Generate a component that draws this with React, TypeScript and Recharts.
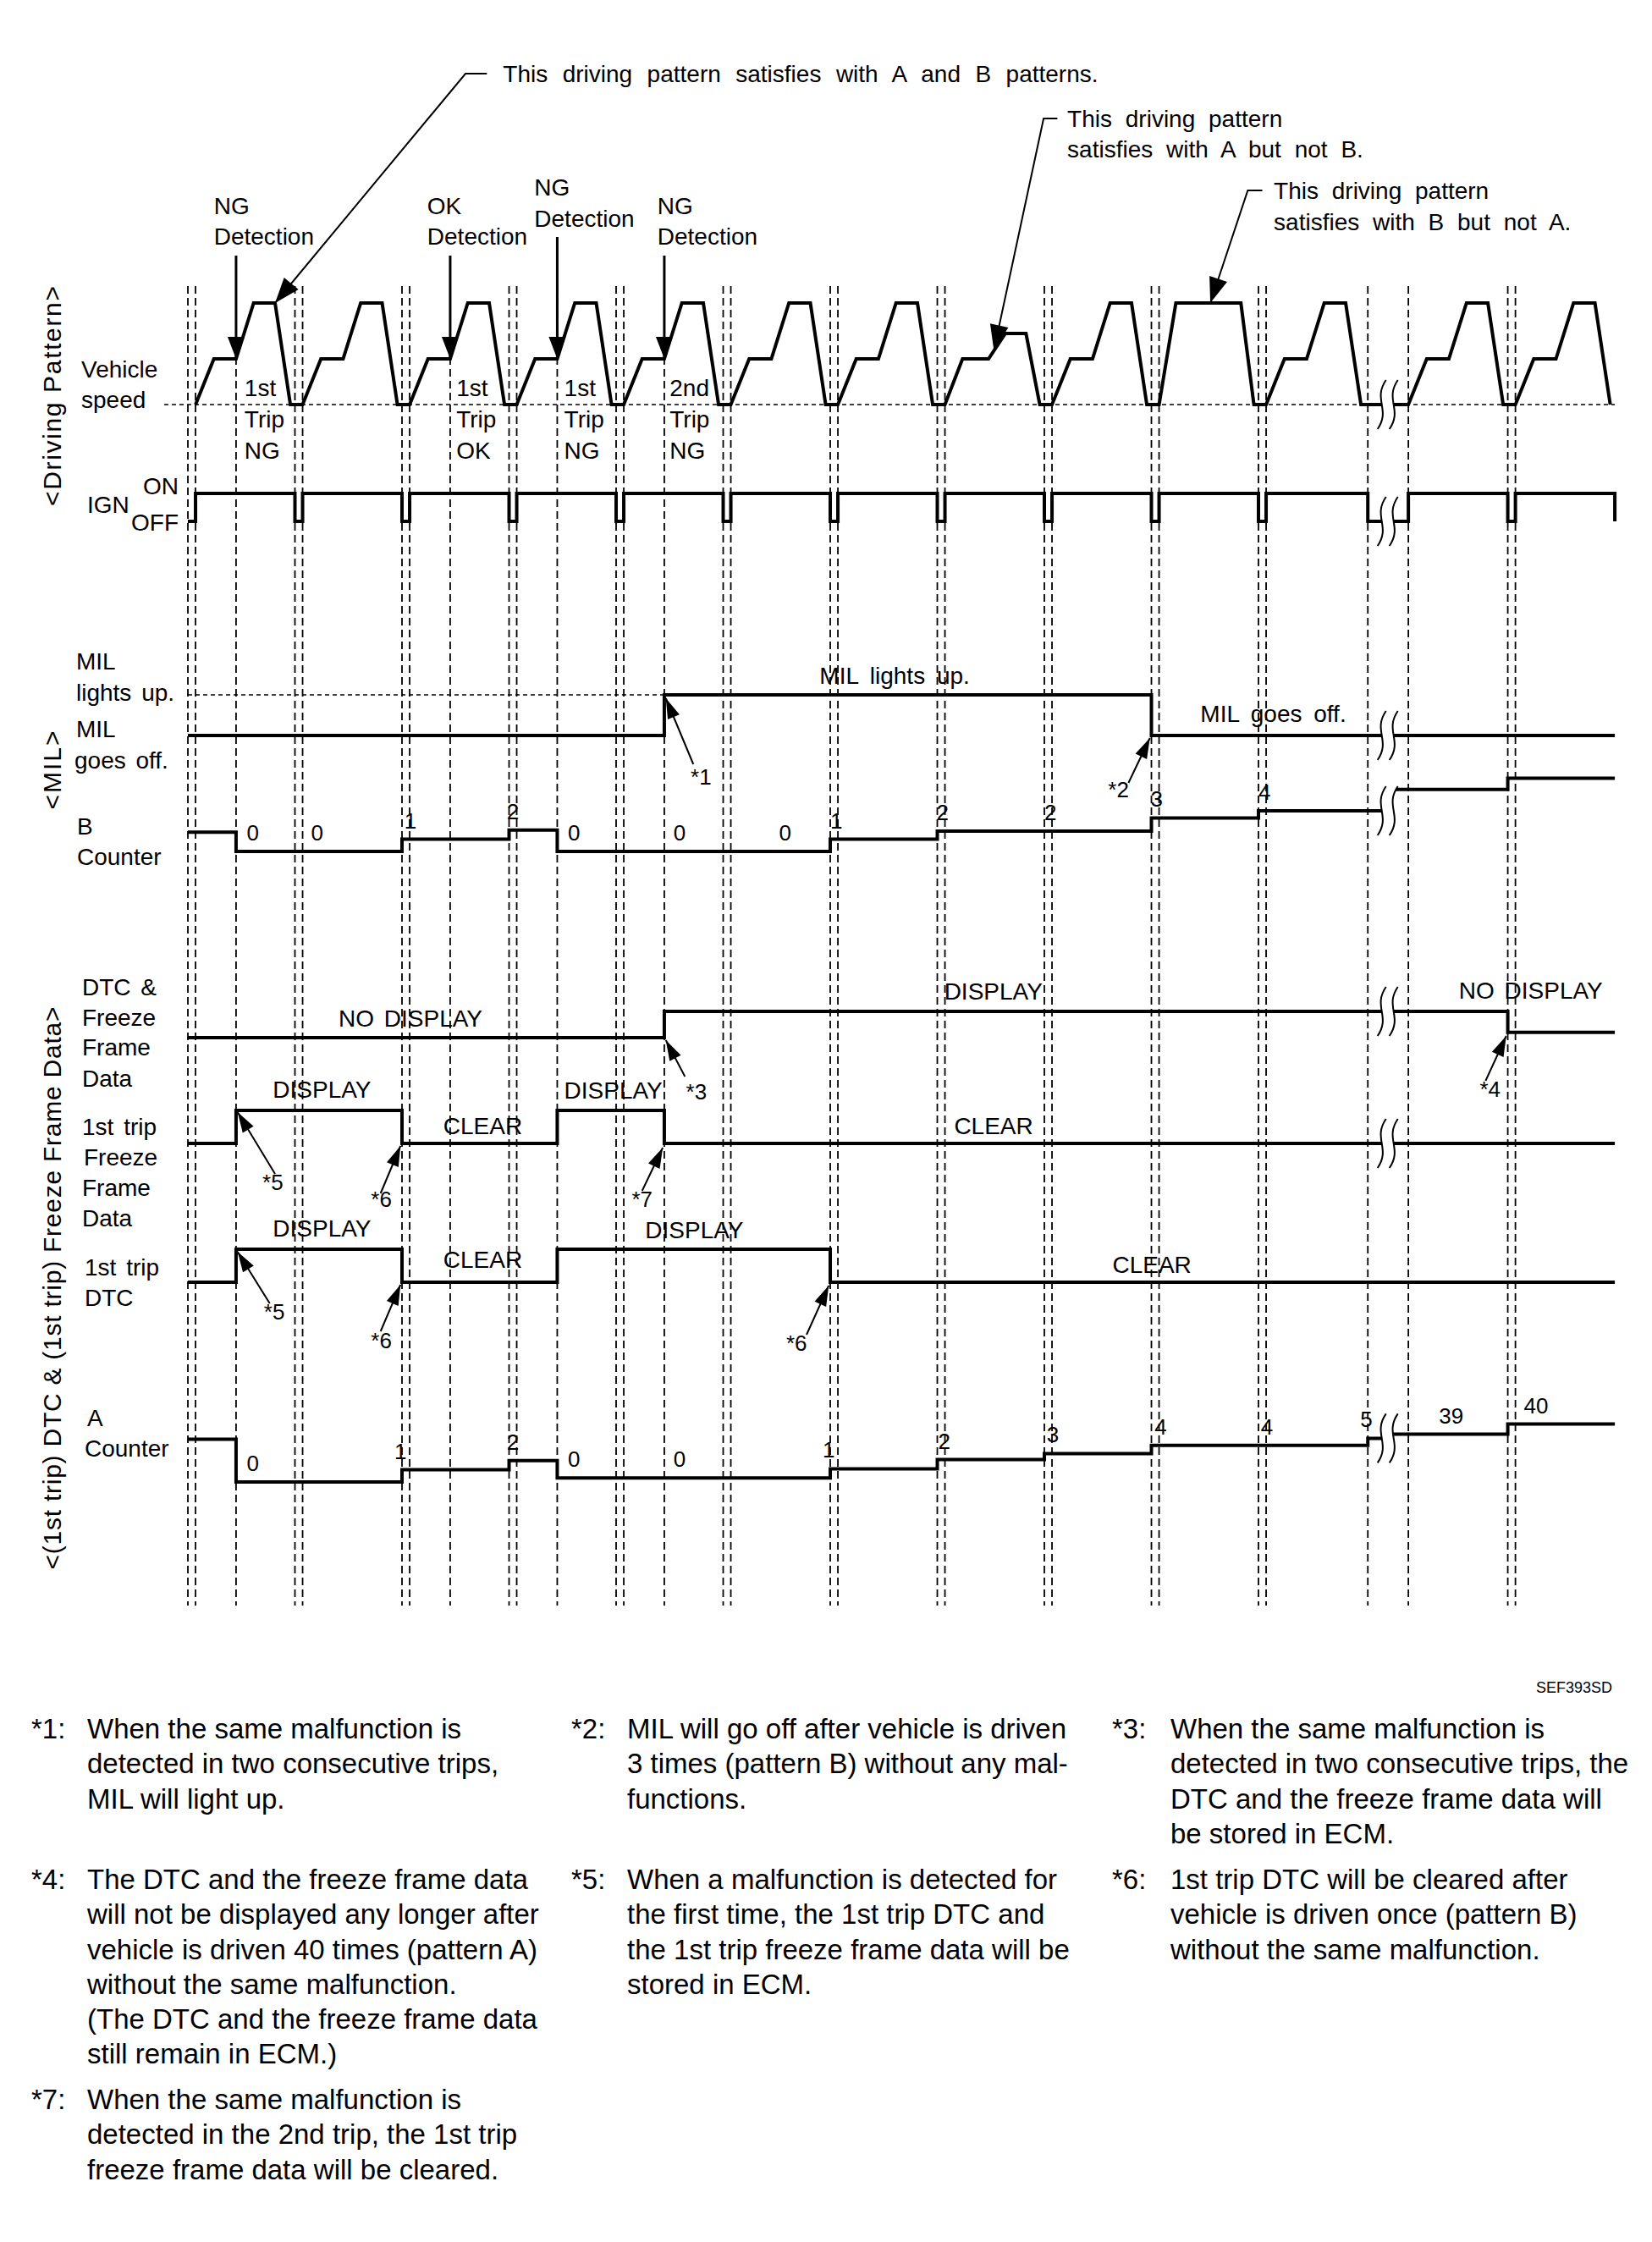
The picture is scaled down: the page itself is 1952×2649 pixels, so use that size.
import React from "react";
import { ComposedChart, Line, Scatter, XAxis, YAxis } from "recharts";

const W = 1952;
const H = 1910;
const T_MIN = -24.57;
const T_MAX = 191.46;
const PX_PER_T = W / (T_MAX - T_MIN);
const FONT = '"Liberation Sans", Arial, Helvetica, sans-serif';

// time base: one drive cycle = 14 units (13 ignition on + 1 off)
const ignOnTimes = [1, 15, 29, 43, 57, 71, 85, 99, 113, 127, 141, 159.6, 173.6];
const ignOffTimes = [14, 28, 42, 56, 70, 84, 98, 112, 126, 140, 154.3, 172.6];
const endTime = 186.6;
const detectionTimes = [6.3, 34.3, 48.3, 62.3];
const breakTime = 156.9;

// which pattern each trip satisfies
const tripPattern = ["AB", "AB", "AB", "AB", "AB", "AB", "AB", "A", "AB", "B", "AB", "AB", "AB"];

// [time from ignition on, vehicle speed]
const speedProfiles: Record<string, number[][]> = {
  AB: [[0, 0], [2.4, 45], [5.3, 45], [7.6, 100], [10.4, 100], [12.4, 0]],
  A: [[0, 0], [2.3, 45], [5.7, 45], [7.9, 70], [10.6, 70], [12.4, 0]],
  B: [[0, 0], [2.2, 100], [10.7, 100], [12.4, 0]],
};

// [time, level] step signals
const milSteps = [[0, 0], [62.3, 1], [126, 0], [endTime, 0]];
const bCounterSteps = [[0, 1.9], [6.3, 0], [28, 1.2], [42, 2.1], [48.3, 0], [84, 1.2], [98, 2.0], [126, 3.3], [140, 4.0], [breakTime, 6.1], [172.6, 7.2], [endTime, 7.2]];
const dtcFfdSteps = [[0, 0], [62.3, 1], [172.6, 0.2], [endTime, 0.2]];
const ffd1Steps = [[0, 0], [6.3, 1], [28, 0], [48.3, 1], [62.3, 0], [endTime, 0]];
const dtc1Steps = [[0, 0], [6.3, 1], [28, 0], [48.3, 1], [84, 0], [endTime, 0]];
const aCounterSteps = [[0, 4.2], [6.3, 0], [28, 1.2], [42, 2.1], [48.3, 0.4], [84, 1.3], [98, 2.2], [112, 2.8], [126, 3.6], [154.3, 4.3], [breakTime, 4.7], [172.6, 5.7], [endTime, 5.7]];

const bLabelTimes = [8.5, 16.9, 29.1, 42.5, 50.5, 64.3, 78.1, 84.8, 98.7, 112.8, 126.7, 140.8];
const bLabelValues = ["0", "0", "1", "2", "0", "0", "0", "1", "2", "2", "3", "4"];
const aLabelTimes = [8.5, 27.8, 42.5, 50.5, 64.3, 83.8, 98.9, 113.1, 127.2, 141.1, 154.1, 165.2, 176.3];
const aLabelValues = ["0", "1", "2", "0", "0", "1", "2", "3", "4", "4", "5", "39", "40"];

type RowName = "speed" | "ign" | "mil" | "b" | "dtc" | "ffd1" | "dtc1" | "a";
const rowLayout: Record<RowName, { base: number; scale: number }> = {
  speed: { base: 478, scale: 1.2 },
  ign: { base: 616, scale: 33 },
  mil: { base: 869, scale: 48 },
  b: { base: 1006, scale: 12 },
  dtc: { base: 1226, scale: 31 },
  ffd1: { base: 1351, scale: 39 },
  dtc1: { base: 1515, scale: 39 },
  a: { base: 1751, scale: 12 },
};
const rowY = (row: RowName, v: number) => rowLayout[row].base - v * rowLayout[row].scale;
const stepSeries = (row: RowName, steps: number[][]) => steps.map(([t, v]) => ({ t, y: rowY(row, v) }));
const levelAt = (steps: number[][], t: number) => {
  let v = steps[0][1];
  for (const [st, sv] of steps) if (st <= t) v = sv;
  return v;
};

const ignSteps = [
  [0, 0],
  ...[...ignOnTimes.map((t) => [t, 1]), ...ignOffTimes.map((t) => [t, 0])].sort((a, b) => a[0] - b[0]),
  [endTime, 0],
];

const speedSeries = ignOnTimes.flatMap((start, i) =>
  speedProfiles[tripPattern[i]].map(([dt, v]) => ({ t: start + dt, y: rowY("speed", v) }))
);

const GRID_TOP = 338;
const GRID_BOTTOM = 1897;
const gridSeries = [0, ...ignOnTimes, ...ignOffTimes, ...detectionTimes].flatMap((t) => [
  { t, y: GRID_TOP },
  { t, y: GRID_BOTTOM },
  { t, y: null },
]);

const speedBase = [{ t: -3.1, y: rowY("speed", 0) }, { t: endTime, y: rowY("speed", 0) }];
const milOnGuide = [{ t: 0, y: rowY("mil", 1) }, { t: 62.3, y: rowY("mil", 1) }];

// leader lines: polyline points [t, y], last point is the arrow tip
const leaders: { pts: number[][]; len: number; wid: number }[] = [
  { pts: [[39.1, 87], [36.3, 87], [11.4, 358]], len: 30, wid: 22 },
  { pts: [[113.7, 140], [111.9, 140], [105.4, 414]], len: 30, wid: 22 },
  { pts: [[140.5, 225], [138.6, 225], [133.7, 358]], len: 30, wid: 22 },
  { pts: [[66.1, 903], [62.5, 825]], len: 24, wid: 15 },
  { pts: [[123.0, 925], [125.8, 872]], len: 24, wid: 15 },
  { pts: [[65.0, 1272], [62.5, 1229]], len: 24, wid: 15 },
  { pts: [[169.7, 1277], [172.4, 1224]], len: 24, wid: 15 },
  { pts: [[11.4, 1387], [6.5, 1314]], len: 24, wid: 15 },
  { pts: [[25.2, 1410], [27.8, 1354]], len: 24, wid: 15 },
  { pts: [[59.4, 1407], [62.1, 1356]], len: 24, wid: 15 },
  { pts: [[10.7, 1540], [6.5, 1479]], len: 24, wid: 15 },
  { pts: [[25.2, 1573], [27.8, 1518]], len: 24, wid: 15 },
  { pts: [[80.9, 1577], [83.8, 1519]], len: 24, wid: 15 },
];
const detectionTails = [302, 302, 280, 302];
const detectionArrows = detectionTimes.map((t, i) => ({
  pts: [[t, detectionTails[i]], [t, rowY("speed", 45)]],
  len: 26,
  wid: 20,
}));

const leaderSeries = leaders.flatMap((l) => [...l.pts.map(([t, y]) => ({ t, y })), { t: l.pts[0][0], y: null }]);
const detectionSeries = detectionArrows.flatMap((l) => [...l.pts.map(([t, y]) => ({ t, y })), { t: l.pts[0][0], y: null }]);
const headSeries = [...leaders, ...detectionArrows].map((l) => {
  const tip = l.pts[l.pts.length - 1];
  const from = l.pts[l.pts.length - 2];
  return { t: tip[0], y: tip[1], ft: from[0], fy: from[1], len: l.len, wid: l.wid };
});

const breakSeries = [
  { t: breakTime, y: rowY("speed", 0) },
  { t: breakTime, y: rowY("ign", 0) },
  { t: breakTime, y: rowY("mil", levelAt(milSteps, breakTime - 1)) },
  { t: breakTime, y: rowY("b", levelAt(bCounterSteps, breakTime - 1)) },
  { t: breakTime, y: rowY("dtc", levelAt(dtcFfdSteps, breakTime - 1)) },
  { t: breakTime, y: rowY("ffd1", levelAt(ffd1Steps, breakTime - 1)) },
  { t: breakTime, y: rowY("a", levelAt(aCounterSteps, breakTime - 1)) },
];

const chartTexts = [
  { t: 41.2, y: 87, text: "This driving pattern satisfies with A and B patterns.", ws: 9.7 },
  { t: 115.0, y: 140, text: "This driving pattern", ws: 8 },
  { t: 115.0, y: 176, text: "satisfies with A but not B.", ws: 8 },
  { t: 142.0, y: 225, text: "This driving pattern", ws: 8 },
  { t: 142.0, y: 262, text: "satisfies with B but not A.", ws: 8 },
  { t: 3.4, y: 243, text: "NG" }, { t: 3.4, y: 279, text: "Detection" },
  { t: 31.3, y: 243, text: "OK" }, { t: 31.3, y: 279, text: "Detection" },
  { t: 45.3, y: 221, text: "NG" }, { t: 45.3, y: 258, text: "Detection" },
  { t: 61.4, y: 243, text: "NG" }, { t: 61.4, y: 279, text: "Detection" },
  { t: 7.4, y: 458, text: "1st" }, { t: 7.4, y: 495, text: "Trip" }, { t: 7.4, y: 532, text: "NG" },
  { t: 35.1, y: 458, text: "1st" }, { t: 35.1, y: 495, text: "Trip" }, { t: 35.1, y: 532, text: "OK" },
  { t: 49.2, y: 458, text: "1st" }, { t: 49.2, y: 495, text: "Trip" }, { t: 49.2, y: 532, text: "NG" },
  { t: 63.0, y: 458, text: "2nd" }, { t: 63.0, y: 495, text: "Trip" }, { t: 63.0, y: 532, text: "NG" },
  { t: 82.6, y: 798, text: "MIL lights up.", ws: 6 },
  { t: 132.4, y: 843, text: "MIL goes off.", ws: 6 },
  { t: 19.7, y: 1203, text: "NO DISPLAY", ws: 4 },
  { t: 98.9, y: 1171, text: "DISPLAY" },
  { t: 166.2, y: 1170, text: "NO DISPLAY", ws: 4 },
  { t: 11.1, y: 1287, text: "DISPLAY" }, { t: 33.4, y: 1330, text: "CLEAR" },
  { t: 49.2, y: 1288, text: "DISPLAY" }, { t: 100.2, y: 1330, text: "CLEAR" },
  { t: 11.1, y: 1451, text: "DISPLAY" }, { t: 33.4, y: 1488, text: "CLEAR" },
  { t: 59.8, y: 1453, text: "DISPLAY" }, { t: 120.9, y: 1494, text: "CLEAR" },
  { t: 67.1, y: 918, text: "*1", anchor: "middle", size: 26 },
  { t: 121.7, y: 933, text: "*2", anchor: "middle", size: 26 },
  { t: 66.5, y: 1290, text: "*3", anchor: "middle", size: 26 },
  { t: 170.3, y: 1287, text: "*4", anchor: "middle", size: 26 },
  { t: 11.1, y: 1397, text: "*5", anchor: "middle", size: 26 },
  { t: 25.3, y: 1417, text: "*6", anchor: "middle", size: 26 },
  { t: 59.4, y: 1417, text: "*7", anchor: "middle", size: 26 },
  { t: 11.3, y: 1550, text: "*5", anchor: "middle", size: 26 },
  { t: 25.3, y: 1584, text: "*6", anchor: "middle", size: 26 },
  { t: 79.6, y: 1587, text: "*6", anchor: "middle", size: 26 },
  ...bLabelTimes.map((t, i) => ({ t, y: rowY("b", levelAt(bCounterSteps, t + 0.5)) - 22, text: bLabelValues[i], anchor: "middle", size: 26 })),
  ...aLabelTimes.map((t, i) => ({ t, y: rowY("a", levelAt(aCounterSteps, t + 0.5)) - 22, text: aLabelValues[i], anchor: "middle", size: 26 })),
];

const sideLabels = [
  { x: 96, y: 436, text: "Vehicle" }, { x: 96, y: 472, text: "speed" },
  { x: 103, y: 596, text: "IGN" }, { x: 169, y: 574, text: "ON" }, { x: 155, y: 617, text: "OFF" },
  { x: 90, y: 781, text: "MIL" }, { x: 90, y: 818, text: "lights up." },
  { x: 90, y: 861, text: "MIL" }, { x: 88, y: 898, text: "goes off." },
  { x: 91, y: 976, text: "B" }, { x: 91, y: 1012, text: "Counter" },
  { x: 97, y: 1166, text: "DTC &" }, { x: 97, y: 1202, text: "Freeze" }, { x: 97, y: 1237, text: "Frame" }, { x: 97, y: 1274, text: "Data" },
  { x: 97, y: 1331, text: "1st trip" }, { x: 99, y: 1367, text: "Freeze" }, { x: 97, y: 1403, text: "Frame" }, { x: 97, y: 1439, text: "Data" },
  { x: 100, y: 1497, text: "1st trip" }, { x: 100, y: 1533, text: "DTC" },
  { x: 103, y: 1675, text: "A" }, { x: 100, y: 1711, text: "Counter" },
];
const groupLabels = [
  { y: 468, len: 260, text: "<Driving Pattern>" },
  { y: 910, len: 93, text: "<MIL>" },
  { y: 1522, len: 665, text: "<(1st trip) DTC & (1st trip) Freeze Frame Data>" },
];

const footnotes = [
  { mark: "*1:", col: 0, row: 0, text: "When the same malfunction is\ndetected in two consecutive trips,\nMIL will light up." },
  { mark: "*2:", col: 1, row: 0, text: "MIL will go off after vehicle is driven\n3 times (pattern B) without any mal-\nfunctions." },
  { mark: "*3:", col: 2, row: 0, text: "When the same malfunction is\ndetected in two consecutive trips, the\nDTC and the freeze frame data will\nbe stored in ECM." },
  { mark: "*4:", col: 0, row: 1, text: "The DTC and the freeze frame data\nwill not be displayed any longer after\nvehicle is driven 40 times (pattern A)\nwithout the same malfunction.\n(The DTC and the freeze frame data\nstill remain in ECM.)" },
  { mark: "*5:", col: 1, row: 1, text: "When a malfunction is detected for\nthe first time, the 1st trip DTC and\nthe 1st trip freeze frame data will be\nstored in ECM." },
  { mark: "*6:", col: 2, row: 1, text: "1st trip DTC will be cleared after\nvehicle is driven once (pattern B)\nwithout the same malfunction." },
  { mark: "*7:", col: 0, row: 2, text: "When the same malfunction is\ndetected in the 2nd trip, the 1st trip\nfreeze frame data will be cleared." },
];
const colX = [[37, 103], [675, 741], [1314, 1383]];
const rowTop = [2022, 2200, 2460];

const TextMark = (p: any) => {
  const d = p.payload ?? p;
  return (
    <text x={p.cx} y={p.cy} fontSize={d.size ?? 28} fontFamily={FONT} textAnchor={d.anchor ?? "start"} dominantBaseline="central" wordSpacing={d.ws ?? 2} fill="#000">
      {d.text}
    </text>
  );
};

const ArrowHead = (p: any) => {
  const d = p.payload ?? p;
  const dx = (d.t - d.ft) * PX_PER_T;
  const dy = d.y - d.fy;
  const L = Math.hypot(dx, dy) || 1;
  const ux = dx / L;
  const uy = dy / L;
  const bx = p.cx - ux * d.len;
  const by = p.cy - uy * d.len;
  const px = (-uy * d.wid) / 2;
  const py = (ux * d.wid) / 2;
  return <polygon points={`${p.cx},${p.cy} ${bx + px},${by + py} ${bx - px},${by - py}`} fill="#000" />;
};

const BreakMark = (p: any) => {
  const h = 58;
  const top = p.cy - h / 2;
  const bot = p.cy + h / 2;
  const x1 = p.cx - 7;
  const x2 = p.cx + 7;
  const curve = (x: number) => `M${x + 5},${top} C${x - 11},${top + h * 0.4} ${x + 11},${top + h * 0.6} ${x - 5},${bot}`;
  const mask = `M${x1 + 5},${top} C${x1 - 11},${top + h * 0.4} ${x1 + 11},${top + h * 0.6} ${x1 - 5},${bot} L${x2 - 5},${bot} C${x2 + 11},${top + h * 0.6} ${x2 - 11},${top + h * 0.4} ${x2 + 5},${top} Z`;
  return (
    <g>
      <path d={mask} fill="#fff" stroke="none" />
      <path d={curve(x1)} fill="none" stroke="#000" strokeWidth={2} />
      <path d={curve(x2)} fill="none" stroke="#000" strokeWidth={2} />
    </g>
  );
};

const sig = { dot: false, activeDot: false, isAnimationActive: false, stroke: "#000", dataKey: "y", legendType: "none" as const };

export default function App() {
  return (
    <div style={{ position: "absolute", left: 0, top: 0, width: W, height: 2649, background: "#fff", fontFamily: FONT }}>
      <div style={{ position: "absolute", left: 0, top: 0 }}>
        <ComposedChart width={W} height={H} margin={{ top: 0, right: 0, bottom: 0, left: 0 }}>
          <XAxis type="number" dataKey="t" domain={[T_MIN, T_MAX]} hide allowDataOverflow />
          <YAxis type="number" dataKey="y" domain={[0, H]} reversed hide allowDataOverflow />
          <Line {...sig} data={gridSeries} type="linear" strokeWidth={1.8} strokeDasharray="9 5" connectNulls={false} />
          <Line {...sig} data={speedBase} type="linear" strokeWidth={1.6} strokeDasharray="5 4" />
          <Line {...sig} data={milOnGuide} type="linear" strokeWidth={1.6} strokeDasharray="5 4" />
          <Line {...sig} data={speedSeries} type="linear" strokeWidth={4} strokeLinejoin="miter" />
          <Line {...sig} data={stepSeries("ign", ignSteps)} type="stepAfter" strokeWidth={4} />
          <Line {...sig} data={stepSeries("mil", milSteps)} type="stepAfter" strokeWidth={4} />
          <Line {...sig} data={stepSeries("b", bCounterSteps)} type="stepAfter" strokeWidth={4} />
          <Line {...sig} data={stepSeries("dtc", dtcFfdSteps)} type="stepAfter" strokeWidth={4} />
          <Line {...sig} data={stepSeries("ffd1", ffd1Steps)} type="stepAfter" strokeWidth={4} />
          <Line {...sig} data={stepSeries("dtc1", dtc1Steps)} type="stepAfter" strokeWidth={4} />
          <Line {...sig} data={stepSeries("a", aCounterSteps)} type="stepAfter" strokeWidth={4} />
          <Scatter data={breakSeries} dataKey="y" shape={BreakMark} isAnimationActive={false} legendType="none" />
          <Line {...sig} data={leaderSeries} type="linear" strokeWidth={2} connectNulls={false} />
          <Line {...sig} data={detectionSeries} type="linear" strokeWidth={3} connectNulls={false} />
          <Scatter data={headSeries} dataKey="y" shape={ArrowHead} isAnimationActive={false} legendType="none" />
          <Scatter data={chartTexts} dataKey="y" shape={TextMark} isAnimationActive={false} legendType="none" />
        </ComposedChart>
      </div>
      <svg width={W} height={H} style={{ position: "absolute", left: 0, top: 0, pointerEvents: "none" }}>
        {sideLabels.map((l, i) => (
          <text key={i} x={l.x} y={l.y} fontSize={28} fontFamily={FONT} dominantBaseline="central" wordSpacing={4}>
            {l.text}
          </text>
        ))}
        {groupLabels.map((g, i) => (
          <text key={i} x={72} y={g.y} transform={`rotate(-90 72 ${g.y})`} fontSize={30} fontFamily={FONT} textAnchor="middle" textLength={g.len} lengthAdjust="spacing">
            {g.text}
          </text>
        ))}
      </svg>
      <div style={{ position: "absolute", right: W - 1905, top: 1983, fontSize: 18, lineHeight: "22px" }}>SEF393SD</div>
      {footnotes.map((f, i) => (
        <React.Fragment key={i}>
          <div style={{ position: "absolute", left: colX[f.col][0], top: rowTop[f.row], fontSize: 33, lineHeight: "41.3px" }}>{f.mark}</div>
          <div style={{ position: "absolute", left: colX[f.col][1], top: rowTop[f.row], fontSize: 33, lineHeight: "41.3px", whiteSpace: "pre" }}>{f.text}</div>
        </React.Fragment>
      ))}
    </div>
  );
}
